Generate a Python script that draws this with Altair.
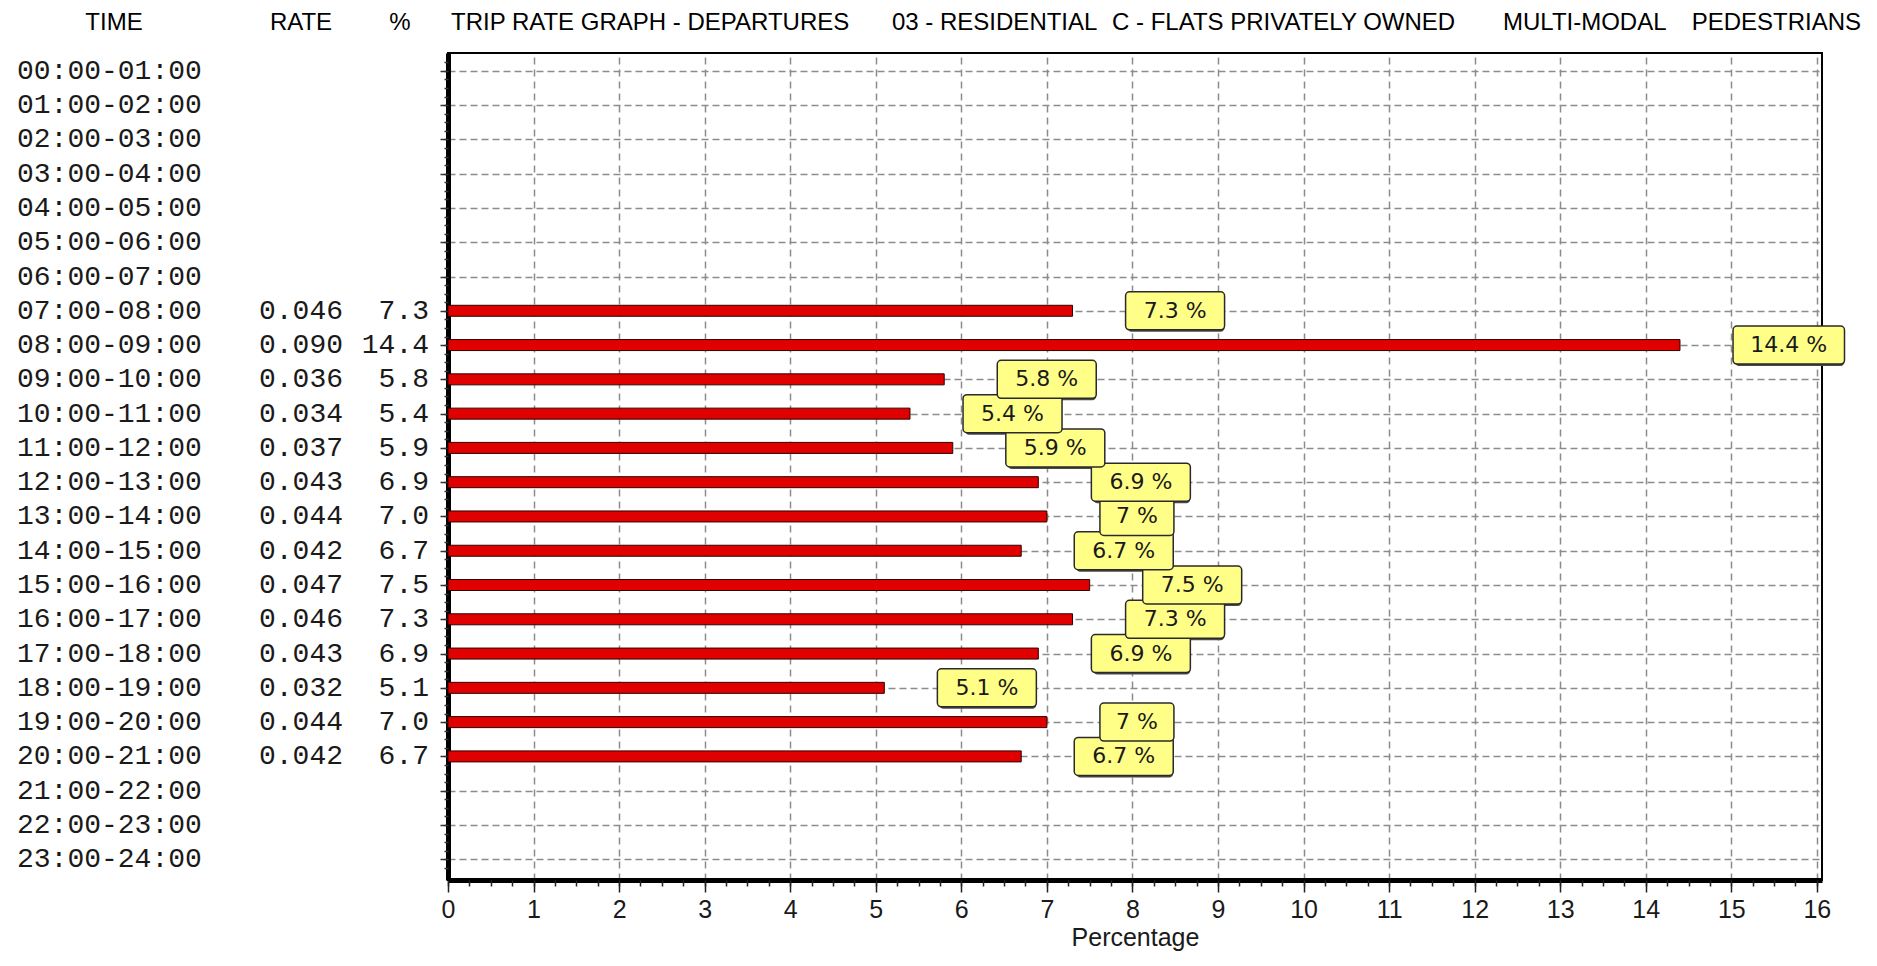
import altair as alt
import pandas as pd

# ---------------- data ----------------
times = [f"{h:02d}:00-{h+1:02d}:00" for h in range(24)]
rate_times = ["07:00-08:00", "08:00-09:00", "09:00-10:00", "10:00-11:00",
              "11:00-12:00", "12:00-13:00", "13:00-14:00", "14:00-15:00",
              "15:00-16:00", "16:00-17:00", "17:00-18:00", "18:00-19:00",
              "19:00-20:00", "20:00-21:00"]
rates = [0.046, 0.090, 0.036, 0.034, 0.037, 0.043, 0.044, 0.042,
         0.047, 0.046, 0.043, 0.032, 0.044, 0.042]
pcts = [7.3, 14.4, 5.8, 5.4, 5.9, 6.9, 7.0, 6.7, 7.5, 7.3, 6.9, 5.1, 7.0, 6.7]
x_major = list(range(0, 17))
headers = ["TIME", "RATE", "%"]
title_parts = ["TRIP RATE GRAPH - DEPARTURES", "03 - RESIDENTIAL",
               "C - FLATS PRIVATELY OWNED", "MULTI-MODAL", "PEDESTRIANS"]
x_title = "Percentage"

# ---------------- tables ----------------
rows = pd.DataFrame({"time": times, "idx": list(range(len(times)))})
data = pd.DataFrame({"time": rate_times, "rate": rates, "pct": pcts})
data["idx"] = [times.index(t) for t in rate_times]
data["rate_txt"] = [f"{r:.3f}" for r in rates]
data["pct_txt"] = [f"{p:.1f}" for p in pcts]
data["box_txt"] = [f"{p:g} %" for p in pcts]
data_rev = data.iloc[::-1].reset_index(drop=True)

W, H = 1374, 827
LEFT = 448
FONT_SANS = "Liberation Sans"
TXT = "#1a1a1a"

xscale = alt.Scale(domain=[0, 16.06], nice=False, zero=False)
yscale = alt.Scale(domain=[-0.375, 23.46], reverse=True, nice=False, zero=False)

x_minor = [i * 0.25 for i in range(0, 65)]
y_major = list(range(0, 24))
y_minor = [-0.25 + i * 0.25 for i in range(0, 95)]

x_axis = alt.Axis(
    orient="bottom",
    values=x_major,
    title=x_title,
    grid=True,
    gridDash=[7, 5],
    gridColor="#8c8c8c",
    gridWidth=1.5,
    gridOpacity={"condition": {"test": "datum.value > 0", "value": 1}, "value": 0},
    tickSize=12,
    tickColor="#222222",
    tickWidth=1.5,
    format="d",
    labelOverlap=False,
    labelFlush=False,
    labelBound=False,
    labelFont=FONT_SANS,
    labelFontSize=25,
    labelColor=TXT,
    labelPadding=5,
    domainColor="black",
    domainWidth=5,
    titleFont=FONT_SANS,
    titleFontSize=25,
    titleFontWeight="normal",
    titleColor=TXT,
    titlePadding=3,
)

x_axis_minor = alt.Axis(
    orient="bottom",
    values=x_minor, title=None, labels=False, grid=False, domain=False,
    tickSize=6, tickColor="#222222", tickWidth=1.5,
)

y_axis = alt.Axis(
    orient="left",
    values=y_major,
    title=None,
    labels=False,
    grid=True,
    gridDash=[7, 4],
    gridColor="#8c8c8c",
    gridWidth=1.5,
    tickSize=8,
    tickColor="#333333",
    tickWidth=1.5,
    domainColor="black",
    domainWidth=5,
)

y_axis_minor = alt.Axis(
    orient="left",
    values=y_minor, title=None, labels=False, grid=False, domain=False,
    tickSize=4, tickColor="#333333", tickWidth=1.5,
)

bars = alt.Chart(data).mark_bar(
    size=11, orient="horizontal", color="#e00000", stroke="#300000", strokeWidth=1
).encode(
    x=alt.X("pct:Q", scale=xscale, axis=x_axis),
    y=alt.Y("idx:Q", scale=yscale, axis=y_axis),
)

box_base = alt.Chart(data_rev).transform_calculate(
    x_lo="datum.pct + 0.62",
).transform_calculate(
    x_hi="datum.x_lo + 0.865 + (length(datum.box_txt) - 3) * 0.146",
).transform_calculate(
    x_mid="(datum.x_lo + datum.x_hi) / 2",
)

shadow = box_base.mark_bar(
    size=38, orient="horizontal", cornerRadius=4, color="#4a4a4a", xOffset=2, yOffset=2
).encode(
    x=alt.X("x_lo:Q", scale=xscale, axis=x_axis_minor),
    x2="x_hi:Q",
    y=alt.Y("idx:Q", scale=yscale, axis=y_axis_minor),
)

boxes = box_base.mark_bar(
    size=38, orient="horizontal", cornerRadius=4, fill="#ffff88", stroke="#2a2a2a", strokeWidth=1.5
).encode(
    x=alt.X("x_lo:Q", scale=xscale, axis=None),
    x2="x_hi:Q",
    y=alt.Y("idx:Q", scale=yscale, axis=None),
)

box_text = box_base.mark_text(
    font="DejaVu Sans", fontSize=22, color=TXT, align="center", baseline="middle"
).encode(
    x=alt.X("x_mid:Q", scale=xscale, axis=None),
    y=alt.Y("idx:Q", scale=yscale, axis=None),
    text="box_txt:N",
)

mono = dict(font="Liberation Mono", fontSize=28, color=TXT, baseline="middle")

time_text = alt.Chart(rows).mark_text(align="left", **mono).encode(
    x=alt.value(17 - LEFT),
    y=alt.Y("idx:Q", scale=yscale, axis=None),
    text="time:N",
)

rate_text = alt.Chart(data).mark_text(align="right", **mono).encode(
    x=alt.value(343 - LEFT),
    y=alt.Y("idx:Q", scale=yscale, axis=None),
    text="rate_txt:N",
)

pct_text = alt.Chart(data).mark_text(align="right", **mono).encode(
    x=alt.value(429 - LEFT),
    y=alt.Y("idx:Q", scale=yscale, axis=None),
    text="pct_txt:N",
)


def label(txt, px, align):
    return alt.Chart(pd.DataFrame({"t": [txt]})).mark_text(
        font=FONT_SANS, fontSize=24, color="black", align=align, baseline="middle"
    ).encode(x=alt.value(px - LEFT), y=alt.value(-30), text="t:N")


head_layers = [
    label(headers[0], 114, "center"),
    label(headers[1], 301, "center"),
    label(headers[2], 400, "center"),
    label(title_parts[0], 451, "left"),
    label(title_parts[1], 892, "left"),
    label(title_parts[2], 1112, "left"),
    label(title_parts[3], 1503, "left"),
    label(title_parts[4], 1861, "right"),
]

chart = alt.layer(
    bars, shadow, boxes, box_text, time_text, rate_text, pct_text, *head_layers
).resolve_axis(
    x="independent", y="independent"
).properties(
    width=W,
    height=H,
    autosize=alt.AutoSizeParams(type="none"),
    padding={"left": 440, "top": 45, "right": 45, "bottom": 72},
    background="white",
).configure_view(
    stroke="black", strokeWidth=2
)

chart.save("out.html", embed_options={"renderer": "svg", "actions": False})
